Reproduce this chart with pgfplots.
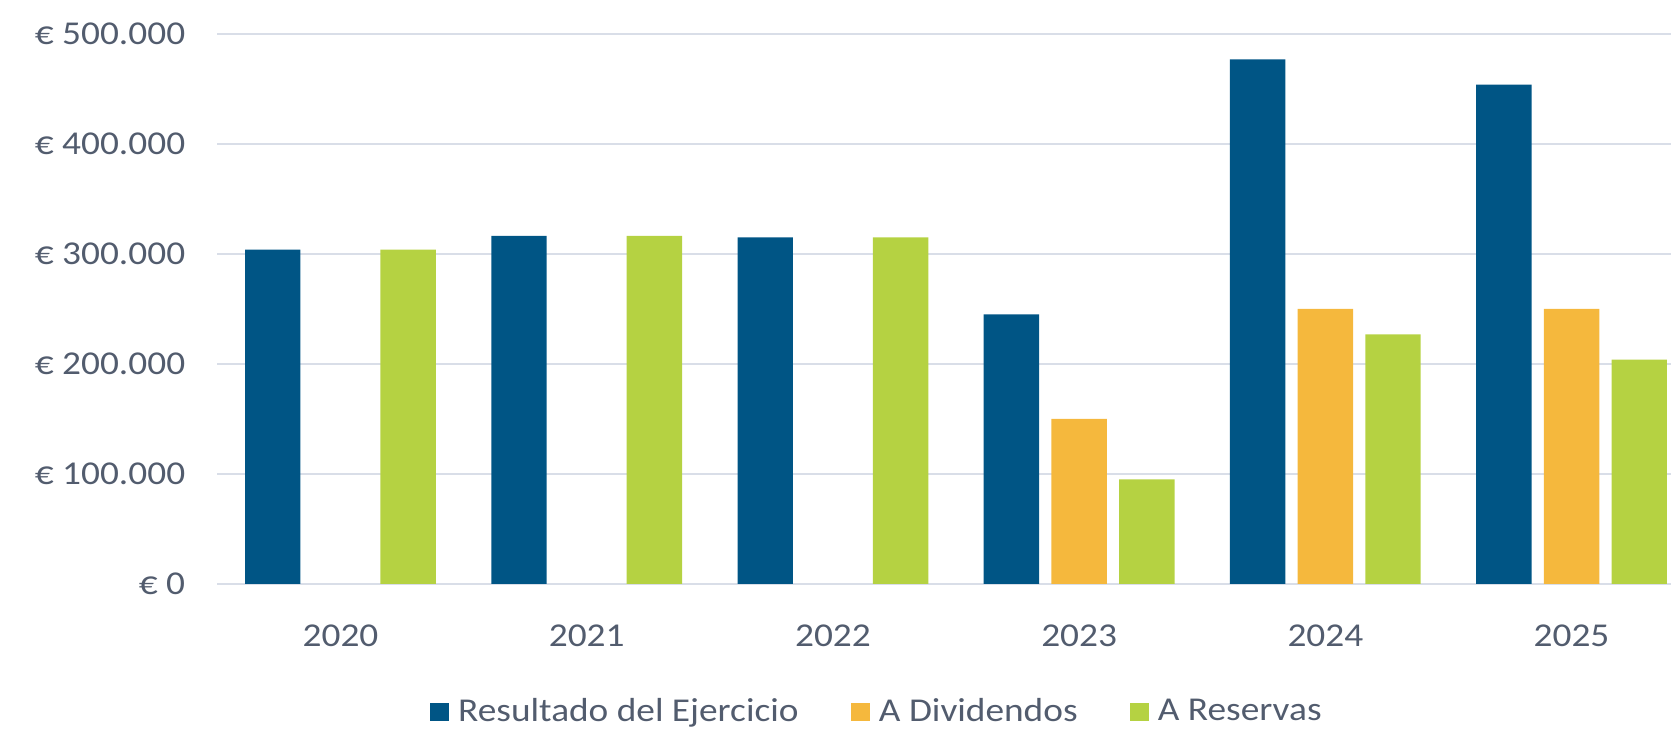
\documentclass[border=0pt]{standalone}
\usepackage{fontspec}
\setmainfont{Carlito}[FakeStretch=1.12]
\usepackage{pgfplots}
\pgfplotsset{compat=1.18}

\definecolor{cblue}{RGB}{0,85,133}
\definecolor{corange}{RGB}{245,184,61}
\definecolor{cgreen}{RGB}{181,210,66}
\definecolor{ctext}{RGB}{82,92,110}
\definecolor{cgrid}{RGB}{217,222,232}

\begin{document}
\begin{tikzpicture}
\begin{axis}[
    at={(0,0)}, anchor=south west,
    scale only axis,
    width=523.3pt, height=198pt,
    ybar=4.43pt, bar width=19.94pt,
    xmin=-0.5, xmax=5.404,
    ymin=0, ymax=500000,
    xtick={0,1,2,3,4,5},
    xticklabels={2020,2021,2022,2023,2024,2025},
    ytick={0,100000,200000,300000,400000,500000},
    yticklabels={€ 0,€ 100.000,€ 200.000,€ 300.000,€ 400.000,€ 500.000},
    scaled y ticks=false,
    axis line style={draw=none},
    major tick length=0pt,
    ymajorgrids,
    grid style={cgrid, line width=0.9pt},
    ticklabel style={font=\fontsize{12}{14}\selectfont, text=ctext, inner sep=0pt},
    yticklabel style={anchor=east, xshift=-11.4pt},
    xticklabel style={anchor=base, yshift=-22.5pt},
    legend columns=3,
    legend style={
        at={(rel axis cs:0.146,-0.2328)}, anchor=west,
        draw=none, fill=none, inner sep=0pt,
        font=\fontsize{12}{14}\selectfont, text=ctext,
        nodes={inner sep=1.8pt},
        /tikz/every odd column/.append style={column sep=1.5pt},
        /tikz/every even column/.append style={column sep=17pt}
    },
    legend image code/.code={\fill[#1] (0pt,-3.4pt) rectangle (6.8pt,3.4pt);},
]
\addplot[fill=cblue, draw=none] coordinates {
    (0,304000) (1,316500) (2,315000) (3,245000) (4,477000) (5,454000)
};
\addlegendentry{Resultado del Ejercicio}
\addplot[fill=corange, draw=none] coordinates {
    (3,150000) (4,250000) (5,250000)
};
\addlegendentry{A Dividendos}
\addplot[fill=cgreen, draw=none] coordinates {
    (0,304000) (1,316500) (2,315000) (3,95000) (4,227000) (5,204000)
};
\addlegendentry{A Reservas}
\end{axis}
\pgfresetboundingbox
\useasboundingbox (-78.26pt,-53.64pt) rectangle (523.3pt,210.24pt);
\end{tikzpicture}
\end{document}
